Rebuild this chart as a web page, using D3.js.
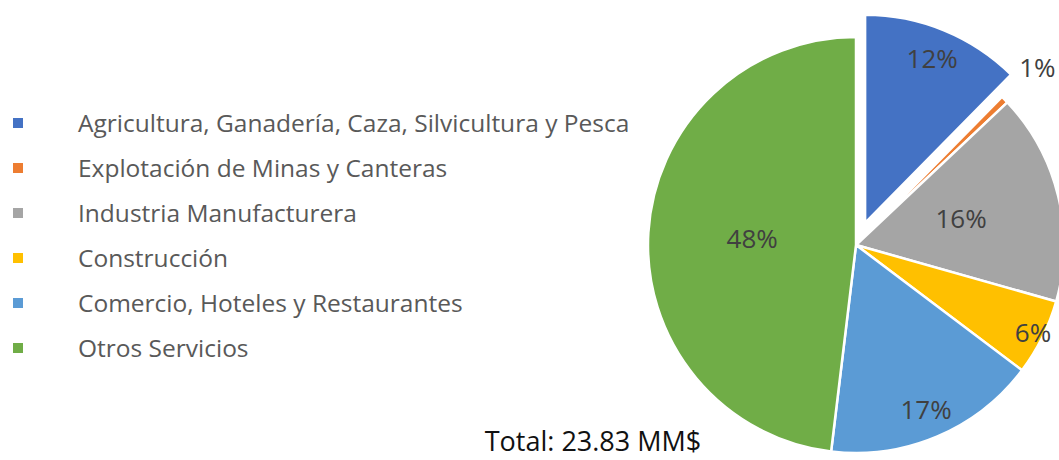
<!DOCTYPE html>
<html>
<head>
<meta charset="utf-8">
<script src="https://cdn.jsdelivr.net/npm/d3@7"></script>
<style>
  body { margin: 0; background: #fff; }
  svg { font-family: "Open Sans", "Noto Sans", sans-serif; }
</style>
</head>
<body>
<div id="chart"></div>
<script>
// data (MM$)
var sectors = ["Agricultura, Ganadería, Caza, Silvicultura y Pesca",
               "Explotación de Minas y Canteras",
               "Industria Manufacturera",
               "Construcción",
               "Comercio, Hoteles y Restaurantes",
               "Otros Servicios"];
var values = [2.95, 0.14, 3.91, 1.41, 3.96, 11.46];
var colors = ["#4472C4", "#ED7D31", "#A5A5A5", "#FFC000", "#5B9BD5", "#70AD47"];
var totalLabel = "Total: 23.83 MM$";

// label placement (fraction of radius), like excel's best fit
var labelR = [0.85, 1.22, 0.52, 0.95, 0.86, 0.5];
var explode = [24, 0, 0, 0, 0, 0];

var width = 1059, height = 460;
var cx = 856, cy = 245, r = 208;

var svg = d3.select("#chart").append("svg")
    .attr("width", width)
    .attr("height", height);

var total = d3.sum(values);
var pct = d3.format(".0%");

var pie = d3.pie().sort(null).value(function(d) { return d; });
var arcs = pie(values);
var arc = d3.arc().innerRadius(0).outerRadius(r);

function offset(d, i, k) {
  var a = (d.startAngle + d.endAngle) / 2;
  return [Math.sin(a) * k, -Math.cos(a) * k];
}

var g = svg.append("g").attr("transform", "translate(" + cx + "," + cy + ")");

g.selectAll("path")
    .data(arcs)
  .enter().append("path")
    .attr("d", arc)
    .attr("fill", function(d, i) { return colors[i]; })
    .attr("stroke", "#fff")
    .attr("stroke-width", 2.5)
    .attr("stroke-linejoin", "round")
    .attr("transform", function(d, i) {
      var o = offset(d, i, explode[i]);
      return "translate(" + o[0] + "," + o[1] + ")";
    });

g.selectAll("text.lbl")
    .data(arcs)
  .enter().append("text")
    .attr("class", "lbl")
    .attr("transform", function(d, i) {
      var e = offset(d, i, explode[i]);
      var p = offset(d, i, labelR[i] * r);
      return "translate(" + (e[0] + p[0]) + "," + (e[1] + p[1]) + ")";
    })
    .attr("text-anchor", "middle")
    .attr("dy", "0.35em")
    .attr("fill", "#404040")
    .style("font-size", "26px")
    .text(function(d) { return pct(d.data / total); });

// legend
var legend = svg.append("g").attr("transform", "translate(13,123)");
var row = legend.selectAll("g")
    .data(sectors)
  .enter().append("g")
    .attr("transform", function(d, i) { return "translate(0," + (i * 45) + ")"; });

row.append("rect")
    .attr("x", 0).attr("y", -5)
    .attr("width", 10).attr("height", 10)
    .attr("fill", function(d, i) { return colors[i]; });

row.append("text")
    .attr("x", 65)
    .attr("dy", "0.35em")
    .attr("fill", "#595959")
    .style("font-size", "24.5px")
    .text(function(d) { return d; });

svg.append("text")
    .attr("x", 593)
    .attr("y", 451)
    .attr("text-anchor", "middle")
    .attr("fill", "#111")
    .style("font-size", "27px")
    .text(totalLabel);
</script>
</body>
</html>
